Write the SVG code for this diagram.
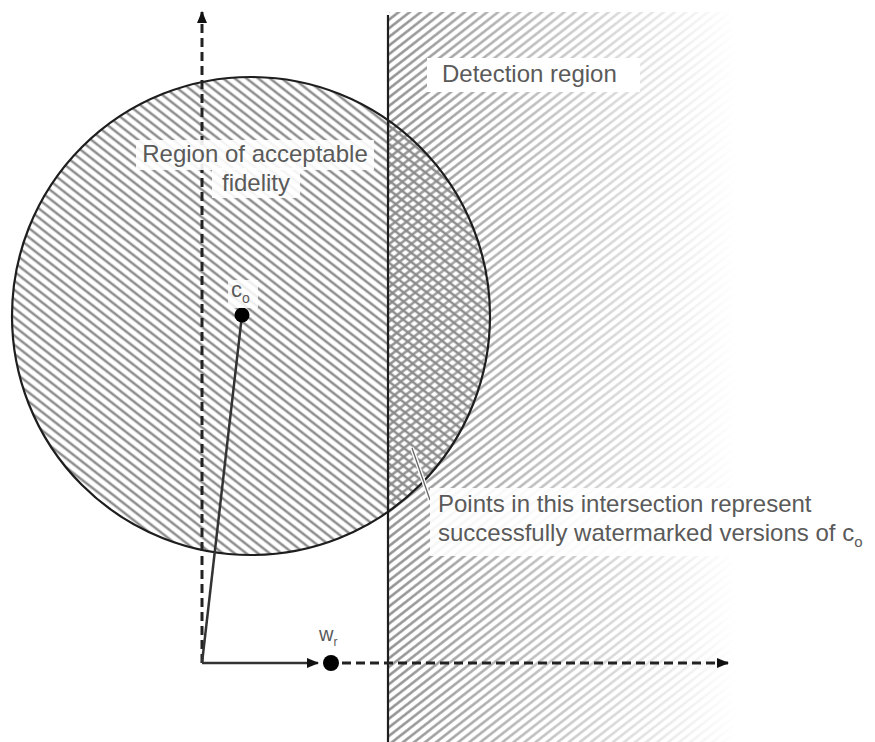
<svg xmlns="http://www.w3.org/2000/svg" width="875" height="742" viewBox="0 0 875 742">
<style>
  text { font-family: "Liberation Sans", Arial, sans-serif; font-size: 24px; fill: #5a5a5a; }
  .edge { fill: none; stroke: #1e1e1e; stroke-width: 2.2; }
  .dash { fill: none; stroke: #222; stroke-width: 3; stroke-dasharray: 9 5; }
  .solid { fill: none; stroke: #333; stroke-width: 2.5; }
  .bg { fill: #fff; }
</style>
<defs>
  <pattern id="hatchBack" width="10" height="7.2" patternUnits="userSpaceOnUse" patternTransform="rotate(38)">
    <rect width="10" height="7.2" fill="#fff"/>
    <line x1="0" y1="3.6" x2="10" y2="3.6" stroke="#8e8e8e" stroke-width="2.5"/>
  </pattern>
  <pattern id="hatchFwd" width="10" height="6.8" patternUnits="userSpaceOnUse" patternTransform="rotate(-38)">
    <line x1="0" y1="3.4" x2="10" y2="3.4" stroke="#8a8a8a" stroke-width="2.4"/>
  </pattern>
  <linearGradient id="fade" x1="388" y1="0" x2="735" y2="0" gradientUnits="userSpaceOnUse">
    <stop offset="0" stop-color="#fff" stop-opacity="1"/>
    <stop offset="0.4" stop-color="#fff" stop-opacity="0.6"/>
    <stop offset="1" stop-color="#fff" stop-opacity="0"/>
  </linearGradient>
  <mask id="fadeMask" maskUnits="userSpaceOnUse" x="388" y="0" width="487" height="742">
    <rect x="388" y="12" width="360" height="730" fill="url(#fade)"/>
  </mask>
  <marker id="arrow" viewBox="0 0 12 10" refX="11" refY="5" markerWidth="12" markerHeight="10" markerUnits="userSpaceOnUse" orient="auto">
    <path d="M0,0 L12,5 L0,10 Z" fill="#111"/>
  </marker>
</defs>

<rect width="875" height="742" fill="#fff"/>

<g id="fidelity-region">
  <circle cx="251" cy="316" r="239" fill="url(#hatchBack)"/>
</g>

<g id="detection-region">
  <rect x="389" y="12" width="360" height="730" fill="url(#hatchFwd)" mask="url(#fadeMask)"/>
</g>

<g id="boundaries">
  <circle cx="251" cy="316" r="239" class="edge"/>
  <line x1="388" y1="15" x2="388" y2="742" class="edge"/>
</g>

<g id="connectors">
  <line x1="202" y1="663" x2="202" y2="12" class="dash" marker-end="url(#arrow)"/>
  <line x1="202" y1="663" x2="318" y2="663" class="solid" marker-end="url(#arrow)"/>
  <line x1="342" y1="663" x2="728" y2="663" class="dash" marker-end="url(#arrow)"/>
  <line x1="202" y1="663" x2="242" y2="315" class="solid"/>
  <line x1="412" y1="448" x2="430" y2="500" stroke="#fff" stroke-width="4"/>
  <line x1="412" y1="448" x2="430" y2="500" stroke="#666" stroke-width="1.3"/>
</g>

<g id="point-c0">
  <circle cx="242" cy="315" r="7.5" fill="#000"/>
  <rect x="228" y="280" width="30" height="28" class="bg" opacity="0.85"/>
  <text x="231" y="297" style="font-size:22px">c<tspan dy="6" style="font-size:14px">o</tspan></text>
</g>

<g id="point-wr">
  <circle cx="331" cy="663" r="8" fill="#000"/>
  <text x="319" y="641" style="font-size:20px">w<tspan dy="5" style="font-size:12px">r</tspan></text>
</g>

<g id="label-detection">
  <rect x="427" y="58" width="213" height="34" class="bg"/>
  <text x="442" y="82">Detection region</text>
</g>

<g id="label-fidelity">
  <rect x="136" y="140" width="238" height="30" class="bg" opacity="0.9"/>
  <rect x="212" y="168" width="88" height="30" class="bg" opacity="0.9"/>
  <text x="255" y="162" text-anchor="middle">Region of acceptable</text>
  <text x="256" y="191" text-anchor="middle">fidelity</text>
</g>

<g id="label-intersection">
  <rect x="430" y="488" width="440" height="68" class="bg" opacity="0.9"/>
  <text x="438" y="512">Points in this intersection represent</text>
  <text x="438" y="541">successfully watermarked versions of c<tspan dy="6" style="font-size:15px">o</tspan></text>
</g>
</svg>
